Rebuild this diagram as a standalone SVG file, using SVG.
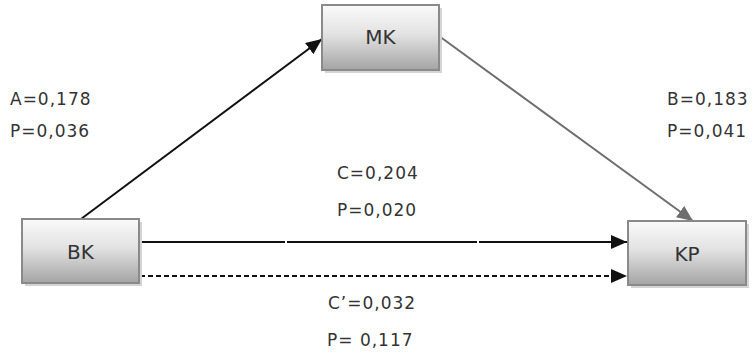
<svg xmlns="http://www.w3.org/2000/svg" width="756" height="356" viewBox="0 0 756 356">
  <style>
    .box { fill: url(#boxFill); stroke: #8a8a8a; stroke-width: 2; }
    .shadow { fill: #d4d4d4; }
    .name { font-family: "DejaVu Sans", sans-serif; font-size: 20px; fill: #333; text-anchor: middle; }
    .val { font-family: "DejaVu Sans", sans-serif; font-size: 17px; fill: #333; letter-spacing: 1px; }
    .edge { fill: none; stroke-width: 2; }
  </style>
  <defs>
    <linearGradient id="boxFill" x1="0" y1="0" x2="0" y2="1">
      <stop offset="0" stop-color="#fafafa"/>
      <stop offset="0.45" stop-color="#e2e2e2"/>
      <stop offset="1" stop-color="#a4a4a4"/>
    </linearGradient>
    <marker id="headBlack" viewBox="0 0 16 14" refX="16" refY="7" markerWidth="16" markerHeight="14" markerUnits="userSpaceOnUse" orient="auto">
      <path d="M0,0 L16,7 L0,14 Z" fill="#111"/>
    </marker>
    <marker id="headGray" viewBox="0 0 16 14" refX="16" refY="7" markerWidth="16" markerHeight="14" markerUnits="userSpaceOnUse" orient="auto">
      <path d="M0,0 L16,7 L0,14 Z" fill="#6e6e6e"/>
    </marker>
  </defs>

  <rect width="756" height="356" fill="#fff"/>

  <g id="connectors">
    <line class="edge" x1="81" y1="219" x2="322" y2="39" stroke="#111" marker-end="url(#headBlack)"/>
    <line class="edge" x1="439" y1="36" x2="693" y2="221" stroke="#6e6e6e" marker-end="url(#headGray)"/>
    <line class="edge" x1="140" y1="242" x2="627" y2="242" stroke="#111" stroke-dasharray="145 2 190 2 400" marker-end="url(#headBlack)"/>
    <line class="edge" x1="140" y1="276" x2="627" y2="276" stroke="#111" stroke-dasharray="5 3" marker-end="url(#headBlack)"/>
  </g>

  <g id="node-mk">
    <rect class="shadow" x="325" y="8" width="117" height="65"/>
    <rect class="box" x="322" y="5" width="117" height="65"/>
    <text class="name" x="380.5" y="44">MK</text>
  </g>

  <g id="node-bk">
    <rect class="shadow" x="25" y="222" width="117" height="64"/>
    <rect class="box" x="22" y="219" width="117" height="64"/>
    <text class="name" x="80.5" y="259">BK</text>
  </g>

  <g id="node-kp">
    <rect class="shadow" x="631" y="224" width="118" height="64"/>
    <rect class="box" x="628" y="221" width="118" height="64"/>
    <text class="name" x="687" y="261">KP</text>
  </g>

  <g id="labels">
    <text class="val" x="10" y="105">A=0,178</text>
    <text class="val" x="10" y="137">P=0,036</text>
    <text class="val" x="667" y="105">B=0,183</text>
    <text class="val" x="667" y="137">P=0,041</text>
    <text class="val" x="337" y="179">C=0,204</text>
    <text class="val" x="337" y="216">P=0,020</text>
    <text class="val" x="328" y="309">C’=0,032</text>
    <text class="val" x="327" y="346">P= 0,117</text>
  </g>
</svg>
